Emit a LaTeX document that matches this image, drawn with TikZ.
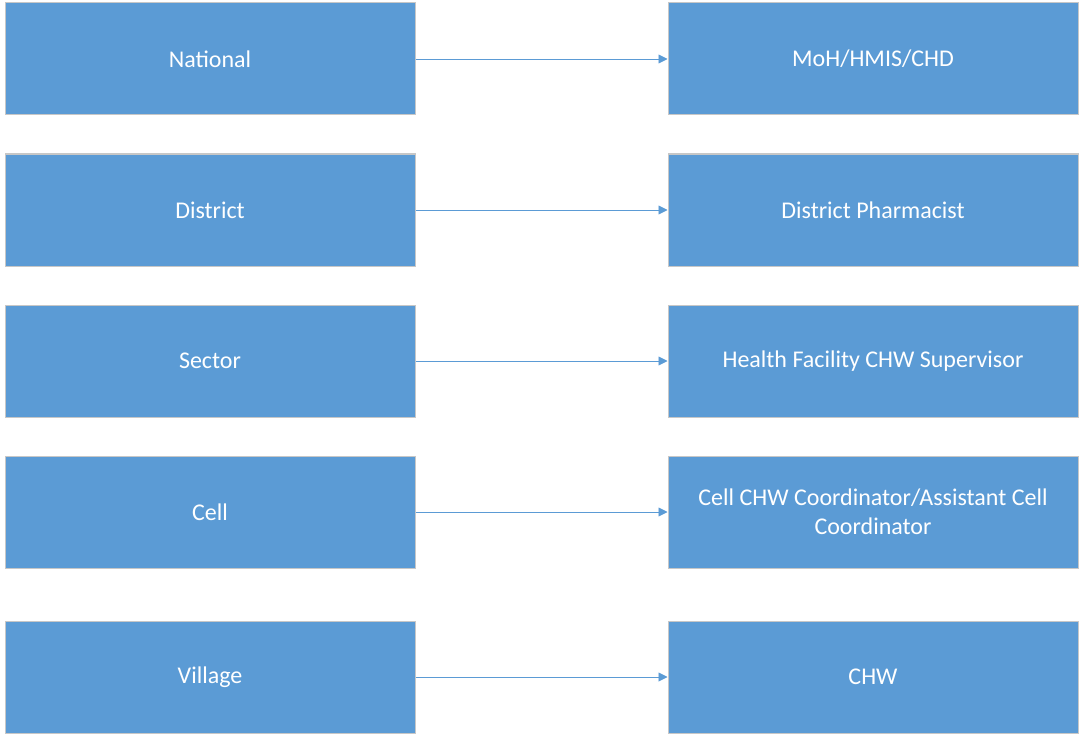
\documentclass[tikz,border=0pt]{standalone}
\usepackage{fontspec}
\setmainfont{Carlito}
\usetikzlibrary{arrows.meta}

\begin{document}
\begin{tikzpicture}[x=1pt,y=-1pt,
    box/.style={draw=black!22,line width=1pt,fill=boxblue,text=white,
      minimum width=410pt,minimum height=112pt,inner sep=0pt,
      align=center,font=\fontsize{24}{29}\selectfont},
    link/.style={draw=boxblue,line width=0.9pt,-{Triangle[length=9pt,width=9pt]}}]
\definecolor{boxblue}{HTML}{5B9BD5}
\useasboundingbox (0,0) rectangle (1084,741);

% levels
\node[box] (national) at (210,59)  {National};
\node[box] (district) at (210,210) {District};
\node[box] (sector)   at (210,361) {Sector};
\node[box] (cell)     at (210,512) {Cell};
\node[box] (village)  at (210,677) {Village};

% responsible persons
\node[box] (moh)        at (873,59)  {MoH/HMIS/CHD};
\node[box] (pharmacist) at (873,210) {District Pharmacist};
\node[box] (supervisor) at (873,361) {Health Facility CHW Supervisor};
\node[box] (coord)      at (873,512) {Cell CHW Coordinator/Assistant Cell\\Coordinator};
\node[box] (chw)        at (873,677) {CHW};

\draw[link] (national) -- (moh);
\draw[link] (district) -- (pharmacist);
\draw[link] (sector) -- (supervisor);
\draw[link] (cell) -- (coord);
\draw[link] (village) -- (chw);
\end{tikzpicture}
\end{document}
